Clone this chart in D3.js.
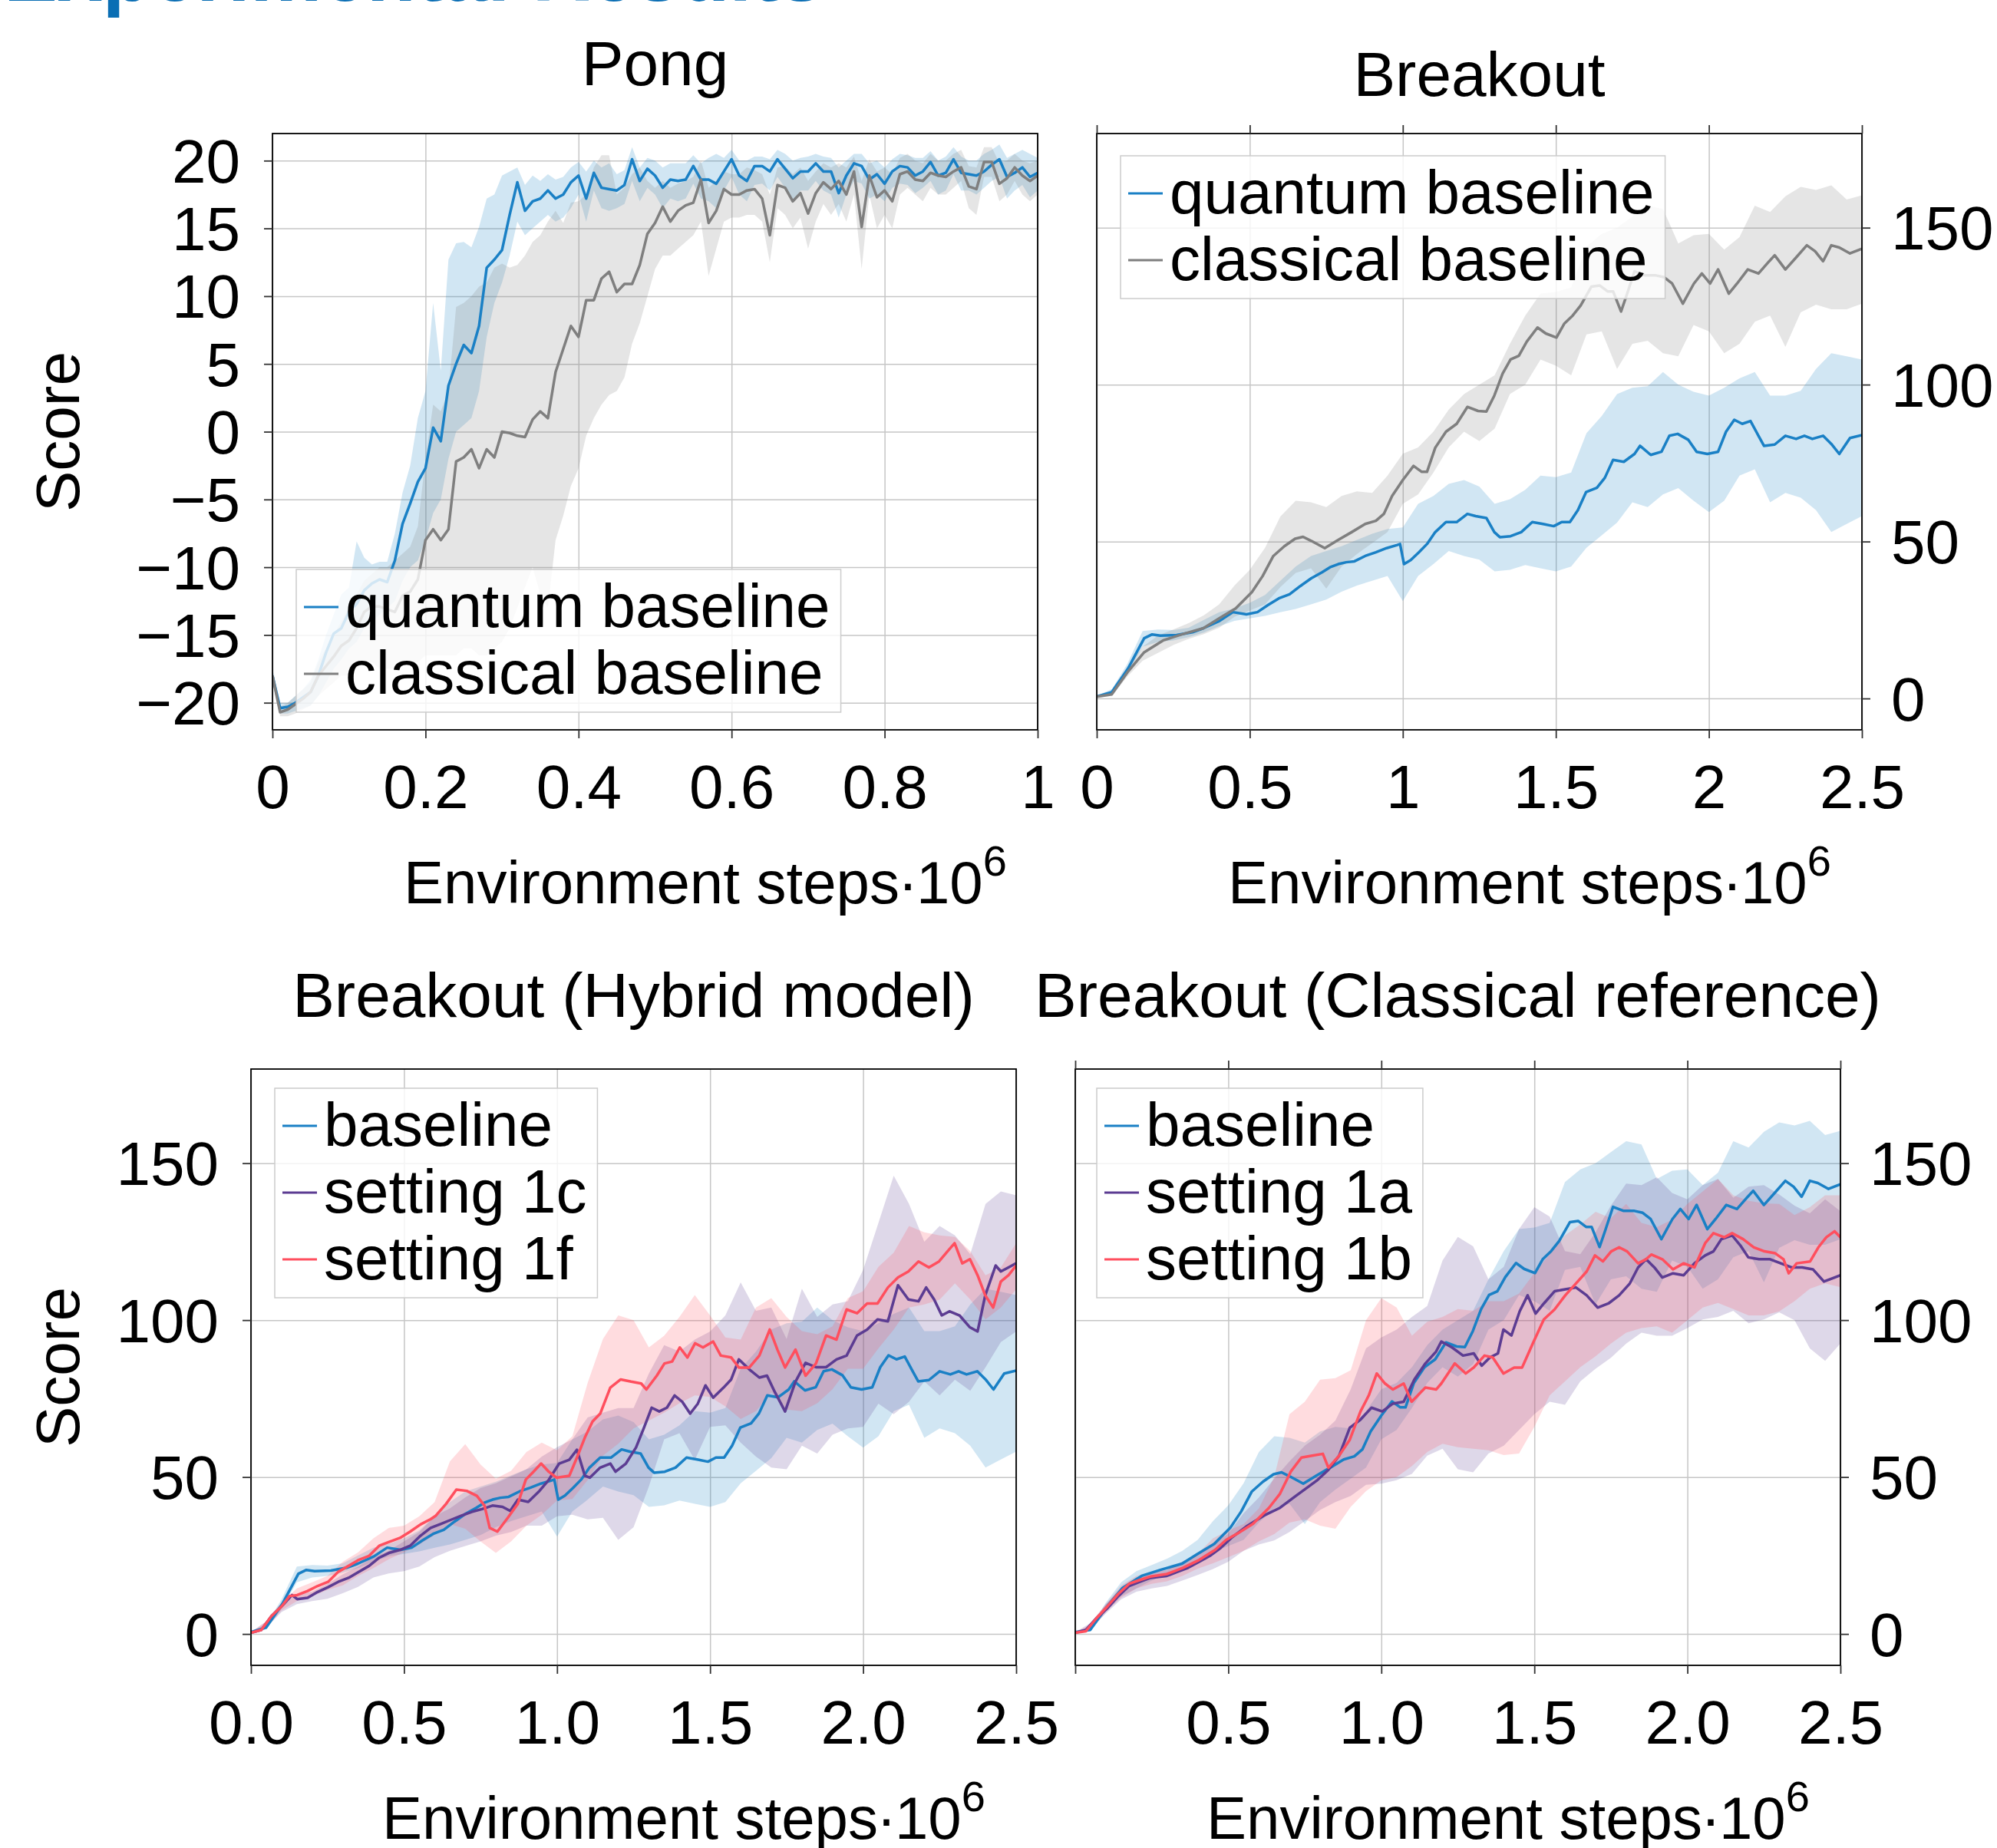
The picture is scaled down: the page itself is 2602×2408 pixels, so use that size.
<!DOCTYPE html>
<html>
<head>
<meta charset="utf-8">
<script src="https://cdn.jsdelivr.net/npm/d3@7"></script>
<style>
  body { margin: 0; background: #fff; }
  svg { display: block; font-family: "Liberation Sans", Arial, sans-serif; }
  .grid line { stroke: #c6c6c6; stroke-width: 1.5px; }
  .grid path { display: none; }
  .axis path { display: none; }
  .axis line { stroke: #333; stroke-width: 1.8px; }
  .axis text { font-size: 80px; fill: #000; font-family: "Liberation Sans", Arial, sans-serif; }
  .border { fill: none; stroke: #000; stroke-width: 1.8px; }
  .mean { fill: none; stroke-width: 3.5px; stroke-linejoin: round; }
  .band { stroke: none; fill-opacity: 0.2; }
  .legend rect { fill: #fff; fill-opacity: 0.8; stroke: #cccccc; stroke-width: 1.5px; }
  .legend text { font-size: 80px; }
  .title { font-size: 82px; text-anchor: middle; }
  .label { font-size: 78px; }
</style>
</head>
<body>
<script>

// ---- data (scores) ----
// Pong: one value every 0.01e6 steps, 0 .. 1
var pongStep = 0.01;
var pongQuantum = [-18.0, -20.4, -20.3, -20.0, -19.6, -19.2, -18.0, -16.3, -14.9, -14.5,
  -13.3, -12.7, -11.7, -11.2, -10.9, -11.1, -9.5, -6.8, -5.3, -3.7,
  -2.7, 0.3, -0.7, 3.4, 5.0, 6.4, 5.8, 7.8, 12.1, 12.7,
  13.4, 16.0, 18.4, 16.3, 17.0, 17.2, 17.8, 17.2, 17.5, 18.4,
  18.9, 17.2, 19.1, 18.0, 17.9, 17.8, 18.2, 20.1, 18.5, 19.4,
  18.9, 18.0, 18.6, 18.5, 18.6, 19.6, 18.6, 18.6, 18.3, 19.2,
  20.1, 18.9, 18.5, 19.6, 19.6, 19.2, 20.1, 19.4, 18.7, 19.2,
  19.2, 19.8, 19.2, 19.2, 17.6, 18.9, 19.8, 19.6, 18.6, 19.0,
  18.3, 19.2, 19.6, 19.5, 18.9, 19.2, 19.9, 18.9, 19.1, 20.1,
  19.1, 19.0, 18.9, 19.2, 19.7, 20.1, 18.8, 19.1, 19.5, 18.8,
  19.1];
var pongQuantumHi = [-17.5, -20.0, -20.0, -19.5, -19.0, -18.3, -16.8, -15.0, -13.5, -12.0,
  -11.5, -8.1, -9.3, -9.8, -9.6, -9.6, -7.5, -4.5, -2.5, 1.0,
  3.0, 9.5, 4.5, 12.7, 13.9, 14.0, 13.6, 15.1, 17.2, 17.5,
  18.9, 19.2, 19.5, 18.2, 18.9, 18.5, 19.0, 18.6, 18.8, 19.5,
  19.9, 19.2, 20.0, 19.5, 19.8, 19.0, 19.3, 21.0, 19.5, 20.2,
  20.0, 19.5, 19.8, 19.8, 19.8, 20.4, 19.8, 20.2, 20.5, 20.2,
  20.8, 20.0, 20.0, 20.3, 20.3, 20.1, 20.8, 20.5, 20.0, 20.2,
  20.3, 20.5, 20.3, 20.2, 19.5, 20.0, 20.5, 20.5, 19.8, 20.0,
  19.5, 20.1, 20.5, 20.4, 20.2, 20.2, 20.7, 20.0, 20.3, 21.0,
  20.3, 20.0, 20.0, 20.5, 20.8, 21.2, 20.2, 20.5, 20.8, 20.5,
  20.2];
var pongQuantumLo = [-18.5, -20.8, -20.8, -20.6, -20.4, -20.2, -19.5, -18.5, -17.5, -16.8,
  -16.0, -15.5, -14.5, -14.0, -13.5, -13.0, -12.5, -11.0, -10.0, -9.5,
  -8.0, -6.0, -5.0, -2.0, 0.0, 0.5, 1.0, 3.0, 7.0, 9.5,
  11.0, 13.0, 15.5, 14.5, 15.0, 15.5, 16.0, 15.5, 15.8, 16.5,
  17.5, 15.5, 17.8, 16.5, 16.3, 16.5, 16.8, 18.5, 17.0, 18.0,
  17.5, 16.5, 17.2, 17.0, 17.2, 18.3, 17.2, 17.0, 16.5, 17.8,
  18.8, 17.5, 17.0, 18.2, 18.3, 17.8, 18.8, 18.0, 17.0, 17.8,
  17.8, 18.5, 17.8, 17.5, 15.8, 17.5, 18.5, 18.3, 17.2, 17.5,
  17.0, 18.0, 18.3, 18.2, 17.6, 18.0, 18.5, 17.5, 17.8, 19.0,
  17.8, 17.8, 17.5, 18.0, 18.5, 18.8, 17.2, 17.8, 18.2, 17.3,
  17.8];
var pongClassical = [-18.0, -20.7, -20.5, -20.1, -19.7, -19.2, -18.0, -17.3, -16.6, -15.8,
  -15.4, -14.5, -13.3, -12.9, -12.9, -13.1, -13.3, -12.1, -11.8, -10.9,
  -8.0, -7.2, -8.0, -7.2, -2.2, -1.9, -1.3, -2.7, -1.3, -1.9,
  0.0, -0.1, -0.3, -0.4, 0.9, 1.5, 1.0, 4.4, 6.1, 7.8,
  7.0, 9.7, 9.7, 11.3, 11.8, 10.3, 10.9, 10.9, 12.3, 14.6,
  15.4, 16.6, 15.5, 16.3, 16.7, 16.9, 18.6, 15.4, 16.3, 17.9,
  17.5, 17.5, 17.8, 17.9, 17.2, 14.5, 18.2, 18.0, 17.0, 17.6,
  16.1, 17.6, 18.4, 17.9, 18.5, 17.5, 19.2, 15.1, 18.9, 17.3,
  17.8, 17.0, 19.0, 19.2, 18.6, 18.5, 19.1, 18.9, 18.8, 19.2,
  19.5, 18.1, 17.9, 19.9, 19.9, 18.3, 18.7, 19.5, 18.9, 18.5,
  18.9];
var pongClassicalHi = [-17.5, -20.3, -20.0, -19.5, -19.0, -18.5, -17.0, -16.0, -15.0, -14.0,
  -13.0, -12.0, -11.0, -10.5, -10.0, -10.0, -9.5, -9.0, -8.5, -7.0,
  -2.0, 2.0, 1.5, 3.0, 9.2, 9.5, 10.0, 10.7, 11.0, 12.1,
  12.4, 12.1, 12.3, 13.0, 14.0, 14.5, 15.5, 16.3, 15.4, 16.9,
  17.0, 17.5, 19.5, 20.4, 20.4, 17.5, 18.0, 19.0, 19.5, 18.5,
  18.0, 18.5, 18.0, 18.3, 18.5, 18.8, 20.0, 18.0, 18.5, 19.2,
  19.0, 19.0, 19.5, 19.3, 19.0, 17.5, 19.5, 19.6, 19.0, 19.5,
  18.5, 19.2, 19.8, 19.5, 19.8, 19.5, 20.3, 18.5, 20.1, 19.2,
  19.5, 19.0, 20.2, 20.5, 20.0, 19.8, 20.5, 20.0, 20.0, 20.5,
  20.8, 19.6, 19.5, 21.0, 21.0, 19.8, 20.0, 20.5, 20.0, 19.8,
  20.0];
var pongClassicalLo = [-18.5, -21.0, -21.0, -20.8, -20.5, -20.2, -19.5, -19.0, -18.5, -18.0,
  -18.0, -17.5, -17.0, -17.0, -17.5, -17.5, -17.5, -17.0, -17.0, -17.0,
  -16.5, -16.5, -16.5, -16.5, -16.5, -16.0, -16.0, -16.5, -16.5, -16.0,
  -15.5, -14.5, -13.0, -11.5, -10.0, -12.0, -13.0, -8.0, -6.2, -4.0,
  -2.7, -0.3, 1.0, 2.0, 2.7, 3.0, 4.0, 6.5, 8.0, 10.0,
  12.0, 13.0, 13.0, 13.5, 14.0, 14.5, 15.5, 11.5, 13.5, 15.5,
  15.8, 15.8, 16.0, 16.0, 15.5, 12.5, 16.5, 16.0, 15.0, 15.8,
  13.5, 15.5, 16.8, 16.0, 16.8, 15.5, 17.5, 12.0, 17.5, 15.0,
  16.0, 15.0, 17.5, 18.0, 17.5, 17.0, 18.0, 17.5, 17.5, 18.0,
  18.5, 16.5, 16.0, 18.8, 18.8, 17.0, 17.5, 18.5, 17.5, 17.0,
  17.5];

// Breakout mean curves: steps (in 1e6) and scores
var breakoutQuantumX = [0, 0.049, 0.102, 0.155, 0.181, 0.208, 0.261, 0.313, 0.349, 0.401,
  0.445, 0.489, 0.525, 0.56, 0.595, 0.63, 0.665, 0.701, 0.736, 0.762,
  0.789, 0.815, 0.842, 0.877, 0.912, 0.947, 0.982, 0.991, 1.004, 1.026,
  1.053, 1.079, 1.106, 1.141, 1.176, 1.211, 1.238, 1.273, 1.299, 1.317,
  1.352, 1.387, 1.423, 1.458, 1.493, 1.519, 1.546, 1.572, 1.599, 1.634,
  1.66, 1.687, 1.722, 1.757, 1.775, 1.81, 1.845, 1.871, 1.898, 1.933,
  1.96, 1.995, 2.03, 2.056, 2.083, 2.109, 2.136, 2.162, 2.18, 2.215,
  2.25, 2.285, 2.312, 2.338, 2.373, 2.4, 2.426, 2.461, 2.5];
var breakoutQuantum = [0.6, 2.0, 9.5, 19.2, 20.4, 20.0, 20.2, 21.1, 22.4, 24.7,
  27.5, 26.8, 27.5, 29.8, 31.9, 33.2, 35.8, 38.3, 40.2, 41.8,
  42.8, 43.4, 43.7, 45.4, 46.6, 47.9, 48.9, 49.2, 42.8, 44.1,
  46.6, 49.2, 53.0, 56.2, 56.2, 58.8, 58.1, 57.5, 53.0, 51.4,
  51.7, 53.0, 56.2, 55.6, 54.9, 56.2, 56.2, 60.0, 65.8, 67.1,
  70.3, 76.0, 75.4, 77.9, 80.5, 77.6, 78.6, 83.7, 84.3, 82.4,
  78.6, 77.9, 78.6, 85.0, 88.8, 87.5, 88.4, 83.7, 80.5, 80.9,
  83.7, 82.7, 83.7, 82.7, 83.7, 81.1, 77.9, 83.0, 83.9];
var breakoutClassicalX = [0, 0.049, 0.1, 0.155, 0.217, 0.278, 0.349, 0.401, 0.454, 0.507,
  0.542, 0.577, 0.613, 0.648, 0.674, 0.701, 0.745, 0.789, 0.833, 0.877,
  0.912, 0.938, 0.965, 1.0, 1.035, 1.062, 1.079, 1.106, 1.141, 1.176,
  1.211, 1.246, 1.273, 1.299, 1.326, 1.352, 1.379, 1.405, 1.44, 1.467,
  1.502, 1.528, 1.555, 1.581, 1.616, 1.643, 1.669, 1.687, 1.713, 1.731,
  1.757, 1.792, 1.827, 1.854, 1.88, 1.915, 1.951, 1.977, 2.004, 2.03,
  2.065, 2.092, 2.127, 2.162, 2.197, 2.215, 2.25, 2.285, 2.32, 2.347,
  2.373, 2.4, 2.426, 2.461, 2.5];
var breakoutClassical = [0.6, 1.3, 8.3, 14.7, 18.5, 20.4, 22.4, 25.6, 28.7, 33.9,
  39.0, 45.4, 48.5, 50.9, 51.5, 50.2, 47.9, 50.5, 53.0, 55.6,
  56.6, 58.8, 64.5, 69.6, 74.1, 72.2, 72.2, 79.9, 85.0, 87.5,
  92.9, 91.6, 91.4, 96.5, 103.5, 108.0, 109.2, 113.7, 118.2, 116.3,
  115.0, 119.5, 122.0, 125.2, 131.2, 131.6, 129.7, 129.7, 123.3, 128.4,
  136.1, 134.8, 134.8, 134.2, 132.2, 125.8, 132.2, 135.4, 132.2, 136.7,
  129.0, 132.2, 136.7, 135.4, 139.3, 141.2, 136.7, 140.5, 144.4, 142.5,
  139.3, 144.4, 143.7, 141.8, 143.3];
var hybrid1cX = [0, 0.034, 0.067, 0.101, 0.134, 0.151, 0.185, 0.218, 0.252, 0.285,
  0.319, 0.352, 0.386, 0.419, 0.453, 0.487, 0.52, 0.554, 0.587, 0.621,
  0.654, 0.688, 0.721, 0.755, 0.789, 0.822, 0.847, 0.872, 0.906, 0.94,
  0.973, 1.007, 1.04, 1.065, 1.091, 1.107, 1.141, 1.174, 1.191, 1.225,
  1.258, 1.284, 1.309, 1.334, 1.359, 1.384, 1.409, 1.435, 1.46, 1.485,
  1.51, 1.544, 1.569, 1.594, 1.628, 1.661, 1.686, 1.711, 1.745, 1.779,
  1.812, 1.846, 1.879, 1.913, 1.946, 1.98, 2.013, 2.047, 2.081, 2.114,
  2.148, 2.181, 2.206, 2.232, 2.257, 2.282, 2.315, 2.349, 2.374, 2.399,
  2.433, 2.45, 2.475, 2.5];
var hybrid1c = [0.4, 1.3, 5.7, 8.9, 12.4, 11.1, 11.5, 13.4, 14.9, 16.6,
  17.9, 19.8, 21.7, 24.3, 25.9, 26.8, 28.1, 31.3, 33.8, 35.1,
  36.4, 37.7, 38.9, 39.8, 40.9, 40.5, 39.2, 42.8, 42.1, 45.3,
  49.1, 54.3, 55.5, 58.7, 50.4, 49.8, 53.0, 54.3, 51.7, 54.3,
  59.4, 65.7, 72.1, 70.9, 72.1, 76.0, 74.0, 70.2, 73.4, 79.2,
  75.3, 78.5, 81.1, 87.5, 84.3, 81.7, 82.3, 77.2, 70.9, 80.4,
  86.4, 85.0, 85.0, 87.5, 88.7, 95.1, 97.0, 100.2, 99.6, 111.1,
  106.6, 106.0, 110.4, 106.6, 101.5, 102.8, 101.5, 97.7, 96.4, 107.9,
  117.4, 115.5, 116.8, 118.1];
var hybrid1fX = [0, 0.034, 0.067, 0.101, 0.126, 0.151, 0.185, 0.218, 0.252, 0.285,
  0.319, 0.352, 0.386, 0.419, 0.453, 0.487, 0.52, 0.554, 0.587, 0.604,
  0.638, 0.671, 0.705, 0.738, 0.763, 0.78, 0.805, 0.839, 0.872, 0.898,
  0.923, 0.948, 0.973, 0.998, 1.04, 1.065, 1.091, 1.116, 1.141, 1.174,
  1.208, 1.242, 1.275, 1.292, 1.326, 1.351, 1.376, 1.401, 1.426, 1.451,
  1.477, 1.51, 1.535, 1.569, 1.594, 1.628, 1.661, 1.695, 1.72, 1.745,
  1.779, 1.812, 1.846, 1.879, 1.913, 1.946, 1.98, 2.013, 2.047, 2.081,
  2.114, 2.148, 2.181, 2.215, 2.248, 2.282, 2.299, 2.324, 2.349, 2.374,
  2.399, 2.425, 2.45, 2.475, 2.5];
var hybrid1f = [0.4, 1.3, 5.7, 8.9, 12.1, 12.4, 13.7, 15.3, 16.6, 19.8,
  21.7, 23.6, 24.9, 28.1, 29.4, 30.6, 32.6, 34.9, 36.6, 37.7,
  41.5, 46.0, 45.6, 44.0, 40.9, 33.8, 32.6, 37.0, 41.5, 49.2,
  51.7, 54.3, 51.7, 49.8, 50.4, 56.2, 62.6, 67.7, 70.2, 78.5,
  81.1, 80.4, 79.8, 77.9, 82.3, 86.2, 86.8, 91.3, 88.1, 92.6,
  91.3, 93.2, 88.7, 88.1, 84.9, 84.9, 88.7, 97.0, 90.6, 84.9,
  90.6, 82.3, 86.2, 95.1, 93.8, 103.4, 102.2, 105.3, 105.3, 110.4,
  113.6, 115.5, 118.7, 116.8, 118.7, 122.6, 124.5, 118.1, 119.4, 114.3,
  107.9, 104.0, 112.3, 114.3, 117.4];
var classical1aX = [0, 0.035, 0.07, 0.106, 0.141, 0.176, 0.211, 0.246, 0.299, 0.334,
  0.369, 0.405, 0.44, 0.475, 0.51, 0.563, 0.616, 0.669, 0.721, 0.757,
  0.792, 0.827, 0.862, 0.897, 0.932, 0.968, 1.003, 1.038, 1.073, 1.108,
  1.144, 1.179, 1.196, 1.231, 1.267, 1.302, 1.328, 1.355, 1.381, 1.399,
  1.425, 1.452, 1.478, 1.504, 1.531, 1.566, 1.601, 1.636, 1.671, 1.707,
  1.742, 1.777, 1.812, 1.839, 1.865, 1.892, 1.918, 1.953, 1.988, 2.023,
  2.058, 2.085, 2.111, 2.146, 2.173, 2.199, 2.234, 2.27, 2.305, 2.34,
  2.375, 2.41, 2.446, 2.481, 2.5];
var classical1a = [0.4, 1.3, 5.1, 8.3, 12.1, 15.3, 16.6, 17.9, 18.5, 19.8,
  21.1, 23.0, 24.9, 27.4, 30.6, 34.5, 37.7, 40.2, 44.0, 46.6,
  49.1, 52.3, 56.8, 65.7, 68.3, 72.1, 70.9, 73.4, 74.0, 81.1,
  86.2, 90.0, 93.2, 91.3, 88.7, 89.4, 85.5, 88.1, 89.4, 97.0,
  95.1, 102.8, 107.9, 102.1, 105.3, 109.2, 109.8, 110.4, 107.9, 104.0,
  105.3, 107.9, 111.7, 116.8, 119.4, 116.8, 113.6, 114.9, 114.3, 118.1,
  120.6, 121.9, 125.8, 127.0, 123.8, 120.0, 119.4, 119.4, 118.1, 116.8,
  116.8, 116.2, 112.3, 113.6, 114.3];
var classical1bX = [0, 0.035, 0.07, 0.106, 0.141, 0.176, 0.211, 0.246, 0.299, 0.352,
  0.405, 0.457, 0.493, 0.528, 0.581, 0.633, 0.669, 0.704, 0.739, 0.774,
  0.809, 0.827, 0.862, 0.897, 0.932, 0.959, 0.985, 1.012, 1.038, 1.073,
  1.099, 1.144, 1.179, 1.196, 1.24, 1.276, 1.302, 1.337, 1.364, 1.399,
  1.434, 1.46, 1.495, 1.531, 1.566, 1.601, 1.636, 1.671, 1.698, 1.724,
  1.751, 1.777, 1.803, 1.839, 1.865, 1.882, 1.918, 1.953, 1.988, 2.023,
  2.058, 2.085, 2.12, 2.146, 2.182, 2.217, 2.252, 2.287, 2.314, 2.331,
  2.357, 2.401, 2.428, 2.454, 2.481, 2.5];
var classical1b = [0.4, 0.9, 5.1, 8.9, 12.8, 16.0, 17.2, 18.3, 19.1, 21.1,
  23.6, 26.8, 30.0, 31.9, 35.1, 40.2, 44.7, 51.7, 56.2, 56.8,
  57.4, 53.0, 56.8, 61.9, 70.9, 76.0, 83.0, 79.8, 77.9, 79.8,
  74.0, 78.5, 77.9, 79.8, 86.2, 83.0, 84.9, 88.7, 88.1, 83.0,
  84.9, 84.9, 92.6, 100.2, 103.4, 107.9, 111.7, 115.5, 120.6, 118.7,
  121.9, 123.2, 121.9, 118.1, 119.4, 120.9, 119.4, 116.2, 118.1, 116.8,
  124.5, 127.7, 126.4, 127.7, 125.8, 123.2, 121.9, 121.3, 119.4, 114.9,
  118.1, 118.7, 123.2, 126.4, 128.3, 126.4];

// Breakout spread bands: one value every 0.05e6 steps, 0 .. 2.5
var bandStep = 0.05;
var breakoutQuantumHi = [0.8, 3.0, 11.0, 21.5, 22.0, 21.8, 22.5, 25.0, 27.5, 28.7,
  30.5, 33.0, 37.5, 42.0, 45.4, 47.0, 48.5, 50.5, 52.5, 54.0,
  54.5, 62.0, 64.5, 68.4, 69.6, 67.5, 62.0, 63.5, 66.5, 71.0,
  70.5, 72.0, 84.5, 90.0, 97.0, 99.0, 99.5, 104.0, 100.0, 97.7,
  96.5, 99.0, 102.0, 104.0, 96.5, 96.5, 98.0, 105.0, 110.0, 109.0,
  108.0];
var breakoutQuantumLo = [0.3, 1.5, 8.0, 16.5, 18.0, 18.5, 19.5, 21.0, 23.0, 24.7,
  25.5, 26.3, 27.5, 28.5, 30.0, 31.5, 34.0, 36.0, 37.5, 39.0,
  31.0, 39.0, 42.8, 47.0, 45.4, 44.2, 40.5, 41.0, 42.5, 41.5,
  40.5, 42.0, 48.0, 52.0, 56.0, 62.5, 61.0, 65.0, 67.0, 63.0,
  59.4, 63.0, 71.0, 73.0, 62.5, 65.5, 64.0, 60.0, 53.0, 55.6,
  58.1];
var breakoutClassicalHi = [1.0, 2.0, 10.0, 16.5, 20.0, 22.0, 24.0, 26.5, 30.0, 36.0,
  41.0, 48.0, 58.0, 63.0, 62.5, 61.0, 64.5, 66.0, 65.5, 71.0,
  78.0, 80.0, 85.0, 92.0, 97.0, 100.0, 103.0, 113.0, 122.0, 129.0,
  129.5, 131.0, 144.0, 148.0, 150.0, 153.5, 157.0, 156.0, 145.0, 147.6,
  148.0, 143.0, 147.0, 157.0, 155.0, 160.0, 163.0, 162.0, 163.5, 159.0,
  160.3];
var breakoutClassicalLo = [0.2, 0.8, 7.0, 12.0, 14.5, 17.0, 19.0, 20.5, 22.5, 26.0,
  28.0, 30.0, 35.5, 40.0, 41.5, 35.0, 42.0, 46.0, 49.5, 53.0,
  62.0, 65.0, 72.0, 80.0, 85.0, 82.0, 86.0, 97.0, 100.0, 108.0,
  106.0, 103.0, 116.0, 117.0, 105.0, 113.0, 114.0, 110.0, 109.0, 119.0,
  117.0, 110.0, 113.0, 120.0, 122.0, 112.0, 123.0, 125.5, 124.0, 124.0,
  125.8];
var hybrid1cHi = [0.6, 4.0, 10.0, 12.5, 13.5, 16.0, 19.0, 21.5, 24.5, 26.5,
  29.5, 32.5, 37.5, 40.0, 43.5, 46.5, 48.0, 50.2, 52.5, 56.5,
  59.5, 62.0, 69.0, 70.5, 72.0, 72.0, 83.0, 92.0, 90.0, 93.8,
  96.4, 101.5, 112.0, 103.0, 104.0, 94.0, 110.0, 101.0, 105.0, 106.0,
  116.0, 131.0, 146.0, 137.0, 125.0, 130.0, 127.0, 121.0, 137.0, 141.0,
  139.8];
var hybrid1cLo = [0.2, 2.0, 7.0, 9.5, 10.5, 11.2, 13.0, 15.0, 18.0, 19.3,
  20.0, 21.5, 24.5, 26.5, 28.0, 29.5, 31.3, 32.5, 34.5, 34.5,
  37.5, 38.0, 36.5, 37.0, 30.0, 34.0, 47.0, 62.0, 64.0, 55.5,
  66.0, 66.5, 61.0, 56.5, 53.0, 52.5, 60.0, 57.5, 63.5, 65.5,
  66.0, 73.4, 70.0, 74.0, 80.5, 76.0, 81.0, 77.5, 85.0, 93.0,
  96.4];
var hybrid1fHi = [0.6, 4.0, 10.0, 14.5, 16.5, 18.5, 23.0, 26.0, 30.5, 33.8,
  34.5, 37.5, 42.0, 55.0, 60.5, 54.0, 49.5, 52.0, 58.0, 61.0,
  58.5, 63.0, 80.0, 94.0, 101.5, 100.0, 91.3, 95.0, 101.0, 108.0,
  101.5, 94.5, 93.8, 104.0, 107.0, 101.0, 96.5, 95.5, 98.0, 107.0,
  109.2, 117.0, 121.5, 130.0, 128.0, 127.0, 126.5, 122.0, 114.3, 116.8,
  124.5];
var hybrid1fLo = [0.2, 2.0, 7.5, 10.5, 12.0, 14.0, 15.5, 18.5, 21.0, 23.8,
  26.0, 28.5, 31.5, 35.0, 33.5, 29.5, 25.8, 29.5, 34.5, 38.0,
  42.5, 43.0, 49.0, 56.8, 60.6, 65.5, 68.0, 70.5, 73.5, 76.0,
  75.5, 72.5, 68.5, 71.0, 77.0, 71.5, 71.0, 73.5, 78.0, 84.5,
  84.5, 91.0, 97.0, 104.0, 105.0, 106.5, 111.7, 106.6, 100.2, 104.0,
  109.8];
var classical1aHi = [0.6, 3.5, 9.5, 14.5, 18.0, 19.5, 20.4, 23.0, 25.5, 28.5,
  32.0, 38.5, 43.5, 49.5, 55.0, 60.0, 63.5, 68.0, 78.0, 91.0,
  94.5, 97.0, 101.0, 104.5, 119.0, 126.5, 123.5, 113.0, 117.0, 129.0,
  136.0, 133.0, 122.0, 121.0, 128.0, 136.5, 143.5, 143.0, 145.5, 140.5,
  138.5, 143.0, 145.0, 139.0, 142.5, 143.0, 140.0, 136.5, 134.0, 138.5,
  134.7];
var classical1aLo = [0.2, 1.8, 6.5, 11.0, 13.5, 14.5, 15.3, 17.0, 18.8, 20.7,
  23.0, 26.5, 28.5, 29.8, 32.5, 36.0, 39.5, 42.0, 44.0, 47.5,
  47.9, 49.0, 51.0, 56.8, 59.0, 52.5, 51.5, 57.5, 60.0, 65.0,
  70.0, 74.0, 73.0, 80.5, 84.5, 88.0, 92.5, 96.0, 95.0, 95.0,
  97.5, 100.2, 101.0, 103.0, 99.0, 100.2, 102.5, 100.0, 91.0, 87.0,
  92.6];
var classical1bHi = [0.6, 3.0, 9.5, 15.5, 18.5, 19.8, 20.4, 23.0, 25.5, 30.5,
  33.0, 35.0, 40.0, 50.0, 70.0, 74.0, 81.0, 81.5, 84.0, 100.0,
  107.0, 104.0, 95.0, 99.5, 101.0, 103.5, 103.0, 106.0, 106.0, 108.5,
  115.0, 121.0, 127.0, 130.5, 134.5, 132.5, 137.0, 131.0, 129.6, 132.0,
  137.0, 141.0, 145.0, 139.8, 138.0, 137.2, 137.0, 133.5, 136.0, 139.8,
  139.8];
var classical1bLo = [0.2, 1.0, 7.0, 11.5, 14.5, 16.0, 16.8, 18.5, 20.8, 22.5,
  24.5, 26.5, 29.5, 31.8, 35.5, 36.5, 34.5, 33.5, 40.5, 45.5,
  49.0, 50.0, 53.5, 58.0, 60.6, 59.5, 59.0, 58.5, 57.0, 57.5,
  66.0, 76.0, 80.5, 85.0, 88.5, 92.5, 96.0, 97.5, 98.0, 96.0,
  100.0, 104.0, 105.5, 103.5, 101.5, 101.5, 102.8, 106.0, 110.0, 111.7,
  110.5];

// ticks
var pongXTicks = [0, 0.2, 0.4, 0.6, 0.8, 1];
var pongYTicks = [-20, -15, -10, -5, 0, 5, 10, 15, 20];
var breakoutXTicks = [0, 0.5, 1, 1.5, 2, 2.5];
var breakoutYTicks = [0, 50, 100, 150];

// ---- styling ----
var blue = "#1a80c5", gray = "#7f7f7f", purple = "#5c3c92", red = "#ff4f5e";

var width = 2602, height = 2408;
var W = 997, H = 777;

var svg = d3.select("body").append("svg")
    .attr("width", width)
    .attr("height", height);

// frame title, cropped at the top edge
svg.append("text")
    .attr("x", 5)
    .attr("y", 1)
    .attr("fill", "#0a6eb4")
    .style("font-size", "105px")
    .style("font-weight", "bold")
    .text("Experimental Results");

var fmtMinus = function(d) { return d < 0 ? "\u2212" + Math.abs(d) : String(d); };
var gridX = function(step) { return function(d, i) { return i * step; }; };

function pongSeries(label, color, mean, lo, hi) {
  var xs = mean.map(gridX(pongStep));
  return { label: label, color: color, x: xs, mean: mean, bx: xs, lo: lo, hi: hi };
}
function breakoutSeries(label, color, xs, mean, lo, hi) {
  return { label: label, color: color, x: xs, mean: mean, bx: lo.map(gridX(bandStep)), lo: lo, hi: hi };
}

var panels = [
  {
    left: 355, top: 174, title: "Pong", titleY: 111,
    xDomain: [0, 1], yDomain: [-22, 22],
    xTicks: pongXTicks, xLabels: pongXTicks, xFormat: function(d) { return String(d); },
    yTicks: pongYTicks, yFormat: fmtMinus, ySide: "left", topTicks: false, score: true,
    series: [
      pongSeries("quantum baseline", blue, pongQuantum, pongQuantumLo, pongQuantumHi),
      pongSeries("classical baseline", gray, pongClassical, pongClassicalLo, pongClassicalHi)
    ],
    legend: { dx: 31, bottom: 23 }
  },
  {
    left: 1429, top: 174, title: "Breakout", titleY: 125,
    xDomain: [0, 2.5], yDomain: [-10, 180],
    xTicks: breakoutXTicks, xLabels: breakoutXTicks, xFormat: function(d) { return String(d); },
    yTicks: breakoutYTicks, yFormat: String, ySide: "right", topTicks: true, score: false,
    series: [
      breakoutSeries("quantum baseline", blue, breakoutQuantumX, breakoutQuantum, breakoutQuantumLo, breakoutQuantumHi),
      breakoutSeries("classical baseline", gray, breakoutClassicalX, breakoutClassical, breakoutClassicalLo, breakoutClassicalHi)
    ],
    legend: { dx: 31, dy: 29 }
  },
  {
    left: 327, top: 1393, title: "Breakout (Hybrid model)", titleY: 1325,
    xDomain: [0, 2.5], yDomain: [-10, 180],
    xTicks: breakoutXTicks, xLabels: breakoutXTicks, xFormat: d3.format(".1f"),
    yTicks: breakoutYTicks, yFormat: String, ySide: "left", topTicks: false, score: true,
    series: [
      breakoutSeries("baseline", blue, breakoutQuantumX, breakoutQuantum, breakoutQuantumLo, breakoutQuantumHi),
      breakoutSeries("setting 1c", purple, hybrid1cX, hybrid1c, hybrid1cLo, hybrid1cHi),
      breakoutSeries("setting 1f", red, hybrid1fX, hybrid1f, hybrid1fLo, hybrid1fHi)
    ],
    legend: { dx: 31, dy: 25 }
  },
  {
    left: 1401, top: 1393, title: "Breakout (Classical reference)", titleY: 1325,
    xDomain: [0, 2.5], yDomain: [-10, 180],
    xTicks: breakoutXTicks, xLabels: [0.5, 1, 1.5, 2, 2.5], xFormat: d3.format(".1f"),
    yTicks: breakoutYTicks, yFormat: String, ySide: "right", topTicks: true, score: false,
    series: [
      breakoutSeries("baseline", blue, breakoutClassicalX, breakoutClassical, breakoutClassicalLo, breakoutClassicalHi),
      breakoutSeries("setting 1a", purple, classical1aX, classical1a, classical1aLo, classical1aHi),
      breakoutSeries("setting 1b", red, classical1bX, classical1b, classical1bLo, classical1bHi)
    ],
    legend: { dx: 28, dy: 25 }
  }
];

panels.forEach(function(p, pi) {
  var x = d3.scaleLinear().domain(p.xDomain).range([0, W]);
  var y = d3.scaleLinear().domain(p.yDomain).range([H, 0]);
  var g = svg.append("g").attr("transform", "translate(" + p.left + "," + p.top + ")");

  // grid
  g.append("g").attr("class", "grid")
      .attr("transform", "translate(0," + H + ")")
      .call(d3.axisBottom(x).tickValues(p.xTicks).tickSize(-H).tickFormat(""));
  g.append("g").attr("class", "grid")
      .call(d3.axisLeft(y).tickValues(p.yTicks).tickSize(-W).tickFormat(""));

  g.append("clipPath").attr("id", "clip" + pi)
    .append("rect").attr("width", W).attr("height", H);
  var plot = g.append("g").attr("clip-path", "url(#clip" + pi + ")");

  p.series.forEach(function(s) {
    var area = d3.area()
        .x(function(d, i) { return x(s.bx[i]); })
        .y0(function(d) { return y(d); })
        .y1(function(d, i) { return y(s.hi[i]); });
    plot.append("path")
        .datum(s.lo)
        .attr("class", "band")
        .attr("fill", s.color)
        .attr("d", area);
  });
  p.series.forEach(function(s) {
    var line = d3.line()
        .x(function(d, i) { return x(s.x[i]); })
        .y(function(d) { return y(d); });
    plot.append("path")
        .datum(s.mean)
        .attr("class", "mean")
        .attr("stroke", s.color)
        .attr("d", line);
  });

  g.append("rect").attr("class", "border").attr("width", W).attr("height", H);

  // x axis
  var xb = g.append("g").attr("class", "axis")
      .attr("transform", "translate(0," + H + ")")
      .call(d3.axisBottom(x).tickValues(p.xTicks).tickSizeInner(11).tickSizeOuter(0)
        .tickFormat(function(d) { return p.xLabels.indexOf(d) >= 0 ? p.xFormat(d) : ""; }));
  xb.selectAll("text").attr("y", 102).attr("dy", null);

  if (p.topTicks) {
    g.append("g").attr("class", "axis")
        .call(d3.axisTop(x).tickValues(p.xTicks).tickSizeInner(11).tickSizeOuter(0).tickFormat(""));
  }

  // y axis
  if (p.ySide === "left") {
    var ya = g.append("g").attr("class", "axis")
        .call(d3.axisLeft(y).tickValues(p.yTicks).tickSizeInner(11).tickSizeOuter(0).tickFormat(p.yFormat));
    ya.selectAll("text").attr("x", -42).attr("dy", "0.35em");
  } else {
    var yr = g.append("g").attr("class", "axis")
        .attr("transform", "translate(" + W + ",0)")
        .call(d3.axisRight(y).tickValues(p.yTicks).tickSizeInner(11).tickSizeOuter(0).tickFormat(p.yFormat));
    yr.selectAll("text").attr("x", 38).attr("dy", "0.35em");
  }

  // title
  svg.append("text").attr("class", "title")
      .attr("x", p.left + W / 2)
      .attr("y", p.titleY)
      .text(p.title);

  // x label
  var xl = svg.append("text").attr("class", "label")
      .attr("x", p.left + 171)
      .attr("y", p.top + H + 226);
  xl.append("tspan").text("Environment steps");
  xl.append("tspan").attr("dx", -2).text("\u00b7");
  xl.append("tspan").attr("dx", -2).text("10");
  xl.append("tspan").attr("dy", -36).style("font-size", "56px").text("6");

  if (p.score) {
    svg.append("text").attr("class", "label")
        .style("font-size", "80px")
        .attr("text-anchor", "middle")
        .attr("transform", "translate(103," + (p.top + H / 2) + ") rotate(-90)")
        .text("Score");
  }

  // legend
  var rows = p.series.length;
  var boxH = 12 + 87 * rows;
  var ly = p.legend.bottom !== undefined ? H - p.legend.bottom - boxH : p.legend.dy;
  var lg = g.append("g").attr("class", "legend")
      .attr("transform", "translate(" + p.legend.dx + "," + ly + ")");
  var box = lg.append("rect");
  var maxW = 0;
  p.series.forEach(function(s, i) {
    var by = 75 + i * 87;
    lg.append("line")
        .attr("x1", 10).attr("x2", 55)
        .attr("y1", by - 26).attr("y2", by - 26)
        .attr("stroke", s.color).attr("stroke-width", 3);
    var t = lg.append("text").attr("x", 64).attr("y", by).text(s.label);
    maxW = Math.max(maxW, t.node().getComputedTextLength());
  });
  box.attr("width", 64 + maxW + 14).attr("height", boxH);
});

</script>
</body>
</html>
